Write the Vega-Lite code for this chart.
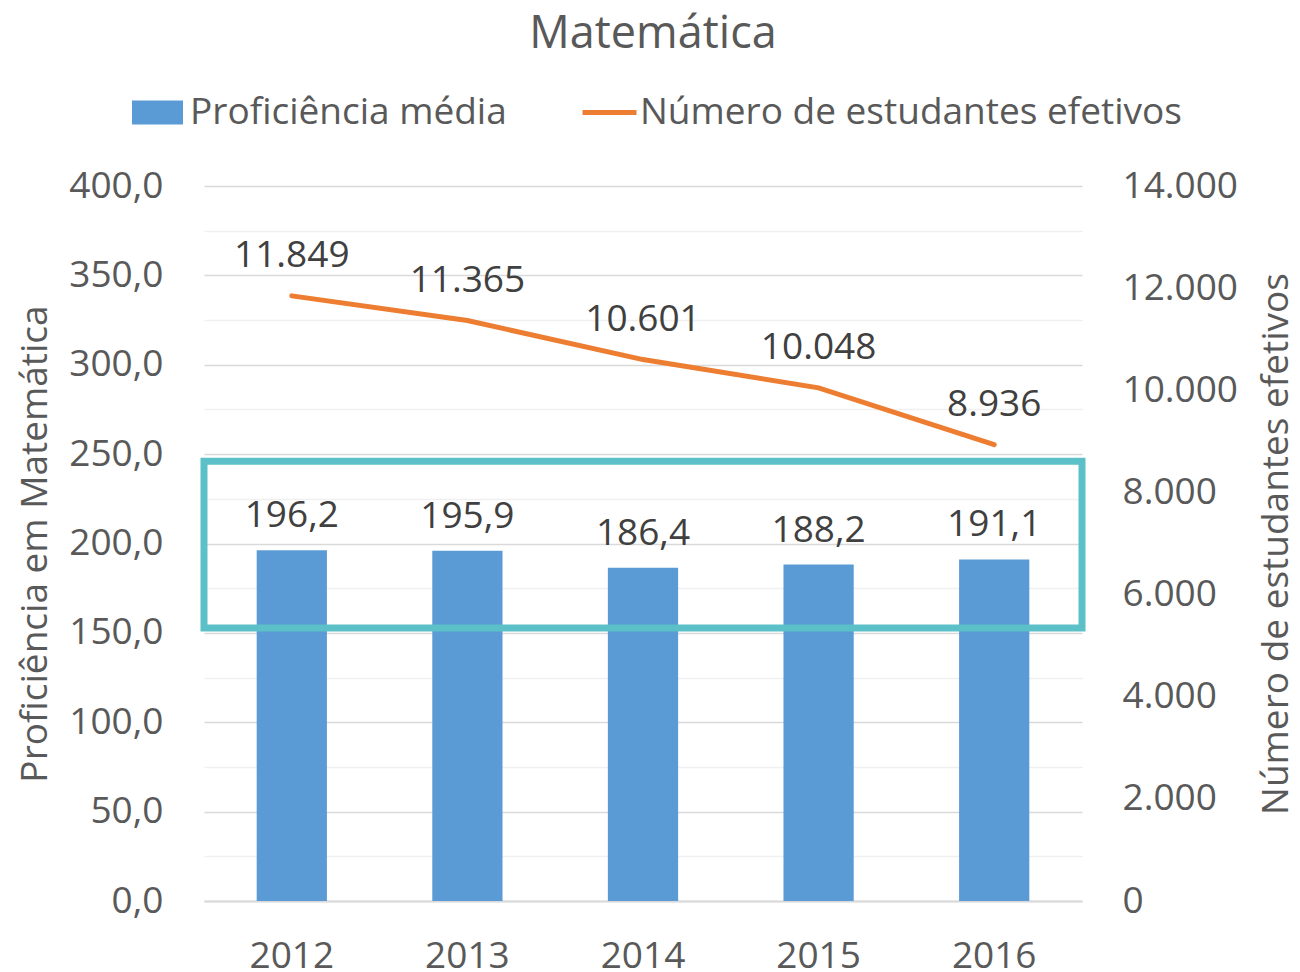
{
  "$schema": "https://vega.github.io/schema/vega-lite/v6.json",
  "width": 878,
  "height": 715,
  "autosize": {"type": "none"},
  "padding": {"left": 204, "top": 186, "right": 218, "bottom": 71},
  "background": "white",
  "title": {"text": "Matemática", "font": "Open Sans", "fontSize": 45, "fontWeight": "normal", "color": "#595959", "anchor": "middle", "dx": 10, "offset": 26},
  "datasets": {
    "main": [
      {"ano": "2012", "prof": 196.2, "n": 11849},
      {"ano": "2013", "prof": 195.9, "n": 11365},
      {"ano": "2014", "prof": 186.4, "n": 10601},
      {"ano": "2015", "prof": 188.2, "n": 10048},
      {"ano": "2016", "prof": 191.1, "n": 8936}
    ],
    "box": [{"lo": 152.7, "hi": 246.0}]
  },
  "layer": [
    {
      "layer": [
        {
          "data": {"name": "main"},
          "mark": {"type": "bar"},
          "encoding": {
            "x": {"field": "ano", "type": "nominal", "sort": null, "scale": {"paddingInner": 0.6, "paddingOuter": 0.3},
              "axis": {"title": null, "labelAngle": 0, "ticks": false, "tickSize": 0, "labelPadding": 37, "labelFont": "Open Sans", "labelFontSize": 37, "labelColor": "#595959", "domainColor": "#D9D9D9", "domainWidth": 2, "grid": false}},
            "y": {"field": "prof", "type": "quantitative", "title": "Proficiência em Matemática", "scale": {"domain": [0, 400], "nice": false},
              "axis": {"title": "Proficiência em Matemática", "titleFont": "Open Sans", "titleFontSize": 37, "titleFontWeight": "normal", "titleColor": "#595959", "titlePadding": 14,
                "values": [0,25,50,75,100,125,150,175,200,225,250,275,300,325,350,375,400], "format": ".1f",
                "labelExpr": "datum.value % 50 === 0 ? datum.label : ''",
                "labelFont": "Open Sans", "labelFontSize": 37, "labelColor": "#595959", "labelPadding": 41,
                "ticks": false, "tickSize": 0, "domain": false, "grid": true,
                "gridColor": {"condition": {"test": "datum.value % 50 === 0", "value": "#D9D9D9"}, "value": "#F0F0F0"},
                "gridWidth": 1.5}},
            "fill": {"datum": "Proficiência média", "type": "nominal", "scale": {"range": ["#5B9BD5"]},
              "legend": {"title": null, "orient": "none", "legendX": -72, "legendY": -99, "padding": 0,
                "symbolType": "M-1,-0.47H1V0.47H-1Z", "symbolSize": 2601, "symbolStrokeWidth": 0, "symbolOpacity": 1,
                "labelFont": "Open Sans", "labelFontSize": 37, "labelColor": "#595959", "labelOffset": 7, "labelLimit": 600}}
          }
        },
        {
          "data": {"name": "main"},
          "mark": {"type": "text", "baseline": "alphabetic", "dy": -23, "font": "Open Sans", "fontSize": 37, "fill": "#404040"},
          "encoding": {
            "x": {"field": "ano", "type": "nominal", "sort": null},
            "y": {"field": "prof", "type": "quantitative", "title": "Proficiência em Matemática"},
            "text": {"field": "prof", "type": "quantitative", "format": ".1f"}
          }
        },
        {
          "data": {"name": "box"},
          "mark": {"type": "rect", "filled": false, "stroke": "#5CC0C8", "strokeWidth": 7},
          "encoding": {
            "y": {"field": "lo", "type": "quantitative", "title": "Proficiência em Matemática"},
            "y2": {"field": "hi"}
          }
        }
      ]
    },
    {
      "layer": [
        {
          "data": {"name": "main"},
          "mark": {"type": "line", "strokeWidth": 5, "strokeCap": "round"},
          "encoding": {
            "x": {"field": "ano", "type": "nominal", "sort": null},
            "y": {"field": "n", "type": "quantitative", "title": "Número de estudantes efetivos", "scale": {"domain": [0, 14000], "nice": false},
              "axis": {"orient": "right", "title": "Número de estudantes efetivos", "titleFont": "Open Sans", "titleFontSize": 37, "titleFontWeight": "normal", "titleColor": "#595959",
                "titleAngle": 270, "titleBaseline": "top", "titlePadding": 21,
                "values": [0,2000,4000,6000,8000,10000,12000,14000], "format": ",d",
                "labelFont": "Open Sans", "labelFontSize": 37, "labelColor": "#595959", "labelPadding": 40,
                "ticks": false, "tickSize": 0, "domain": false, "grid": false}},
            "stroke": {"datum": "Número de estudantes efetivos", "type": "nominal", "scale": {"range": ["#ED7D31"]},
              "legend": {"title": null, "orient": "none", "legendX": 376, "legendY": -103, "padding": 0,
                "symbolType": "stroke", "symbolSize": 2916, "symbolStrokeWidth": 5,
                "labelFont": "Open Sans", "labelFontSize": 37, "labelColor": "#595959", "labelOffset": 1, "labelLimit": 800}}
          }
        },
        {
          "data": {"name": "main"},
          "mark": {"type": "text", "baseline": "alphabetic", "dy": -29, "font": "Open Sans", "fontSize": 37, "fill": "#404040"},
          "encoding": {
            "x": {"field": "ano", "type": "nominal", "sort": null},
            "y": {"field": "n", "type": "quantitative", "title": "Número de estudantes efetivos"},
            "text": {"field": "n", "type": "quantitative", "format": ",d"}
          }
        }
      ]
    }
  ],
  "resolve": {"scale": {"y": "independent"}},
  "config": {
    "view": {"stroke": null},
    "locale": {"number": {"decimal": ",", "thousands": ".", "grouping": [3], "currency": ["R$", ""]}}
  }
}
